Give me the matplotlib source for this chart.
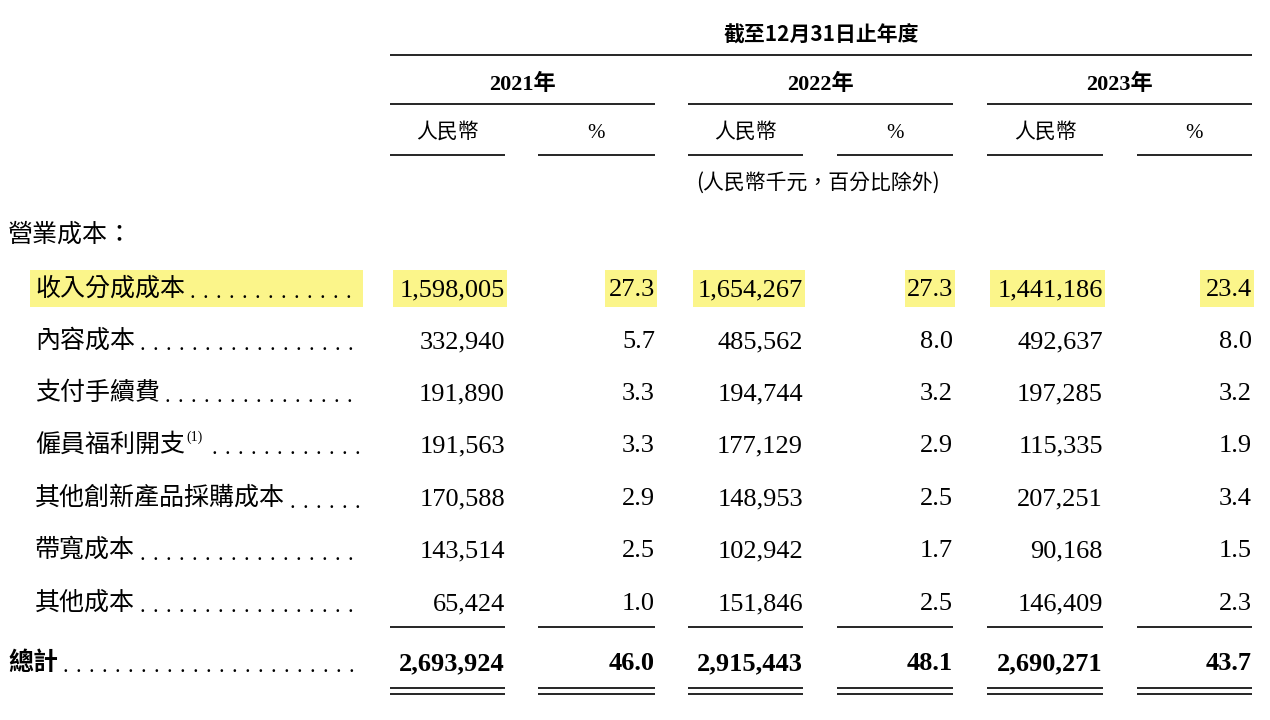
import matplotlib
matplotlib.use("Agg")
import matplotlib.pyplot as plt
from matplotlib.patches import Rectangle

# --- DATA ---
years = ["2021年", "2022年", "2023年"]
row_labels = ["收入分成成本", "內容成本", "支付手續費", "僱員福利開支", "其他創新產品採購成本", "帶寬成本", "其他成本"]
rmb_2021 = ["1,598,005", "332,940", "191,890", "191,563", "170,588", "143,514", "65,424"]
pct_2021 = ["27.3", "5.7", "3.3", "3.3", "2.9", "2.5", "1.0"]
rmb_2022 = ["1,654,267", "485,562", "194,744", "177,129", "148,953", "102,942", "151,846"]
pct_2022 = ["27.3", "8.0", "3.2", "2.9", "2.5", "1.7", "2.5"]
rmb_2023 = ["1,441,186", "492,637", "197,285", "115,335", "207,251", "90,168", "146,409"]
pct_2023 = ["23.4", "8.0", "3.2", "1.9", "3.4", "1.5", "2.3"]
total_label = "總計"
totals = ["2,693,924", "46.0", "2,915,443", "48.1", "2,690,271", "43.7"]

CJK = "Noto Sans CJK TC"
SERIF = "Liberation Serif"
YELLOW = "#fbf58a"

fig = plt.figure(figsize=(12.7, 7.2), dpi=100, facecolor="white")
ax = fig.add_axes([0, 0, 1, 1])
ax.set_xlim(0, 1270)
ax.set_ylim(720, 0)
ax.axis("off")

def hline(x0, x1, y, lw=1.2):
    ax.plot([x0, x1], [y, y], color="black", lw=lw, solid_capstyle="butt")

# column spans (left, right) for RMB and % in each year
rmb_cols = [(390, 505), (688, 803), (987, 1103)]
pct_cols = [(538, 655), (837, 953), (1137, 1252)]

# --- HEADER ---
ax.text(821, 35, "截至12月31日止年度", fontfamily=CJK, fontsize=15, fontweight="bold",
        ha="center", va="center")
hline(390, 1252, 55)
for i, y in enumerate(years):
    x0, x1 = rmb_cols[i][0], pct_cols[i][1]
    ax.text((x0 + x1) / 2, 84, y, fontfamily=[SERIF, CJK], fontsize=16, fontweight="bold",
            ha="center", va="center")
    hline(x0, x1, 104)
    for (a, b), t in ((rmb_cols[i], "人民幣"), (pct_cols[i], "%")):
        ax.text((a + b) / 2, 133, t, fontfamily=[SERIF, CJK], fontsize=15,
                ha="center", va="center")
        hline(a, b, 155)
ax.text(818, 183, "(人民幣千元，百分比除外)", fontfamily=CJK, fontsize=15, style="italic",
        ha="center", va="center")
ax.text(8, 235, "營業成本：", fontfamily=CJK, fontsize=18, ha="left", va="center")

# --- ROWS ---
row_y = [289, 341, 393, 445, 498, 550, 603]
series = [rmb_2021, pct_2021, rmb_2022, pct_2022, rmb_2023, pct_2023]
col_right = [505, 655, 803, 953, 1103, 1252]

fig.canvas.draw()
renderer = fig.canvas.get_renderer()
inv = ax.transData.inverted()

def label_with_dots(x, y, label, size=18, weight="normal", sup=None):
    t = ax.text(x, y, label, fontfamily=CJK, fontsize=size, fontweight=weight,
                ha="left", va="center")
    bb = t.get_window_extent(renderer)
    xe = inv.transform((bb.x1, bb.y0))[0]
    if sup:
        ax.text(xe + 1, y - 8, sup, fontfamily=SERIF, fontsize=10, ha="left", va="center")
        xe += 22
    xd = xe + 7
    while xd < 360:
        ax.text(xd, y + 5, ".", fontfamily=SERIF, fontsize=16, ha="center", va="center")
        xd += 13

# highlight row 1
hy = row_y[0]
ax.add_patch(Rectangle((30, hy - 19), 333, 37, color=YELLOW, lw=0, zorder=0))
for a, b in [(393, 507), (605, 657), (693, 805), (905, 955), (990, 1105), (1200, 1254)]:
    ax.add_patch(Rectangle((a, hy - 19), b - a, 37, color=YELLOW, lw=0, zorder=0))

for r, (lab, y) in enumerate(zip(row_labels, row_y)):
    label_with_dots(35, y, lab, sup="(1)" if lab == "僱員福利開支" else None)
    for c, vals in enumerate(series):
        ax.text(col_right[c], y + 1, vals[r], fontfamily=SERIF, fontsize=19,
                ha="right", va="center")

for (a, b) in rmb_cols + pct_cols:
    hline(a, b, 627)
    hline(a, b, 688)
    hline(a, b, 694)

# --- TOTAL ---
label_with_dots(8, 663, total_label, weight="bold")
for c, v in enumerate(totals):
    ax.text(col_right[c], 664, v, fontfamily=SERIF, fontsize=19, fontweight="bold",
            ha="right", va="center")

fig.savefig("out.png", dpi=100, facecolor="white")
